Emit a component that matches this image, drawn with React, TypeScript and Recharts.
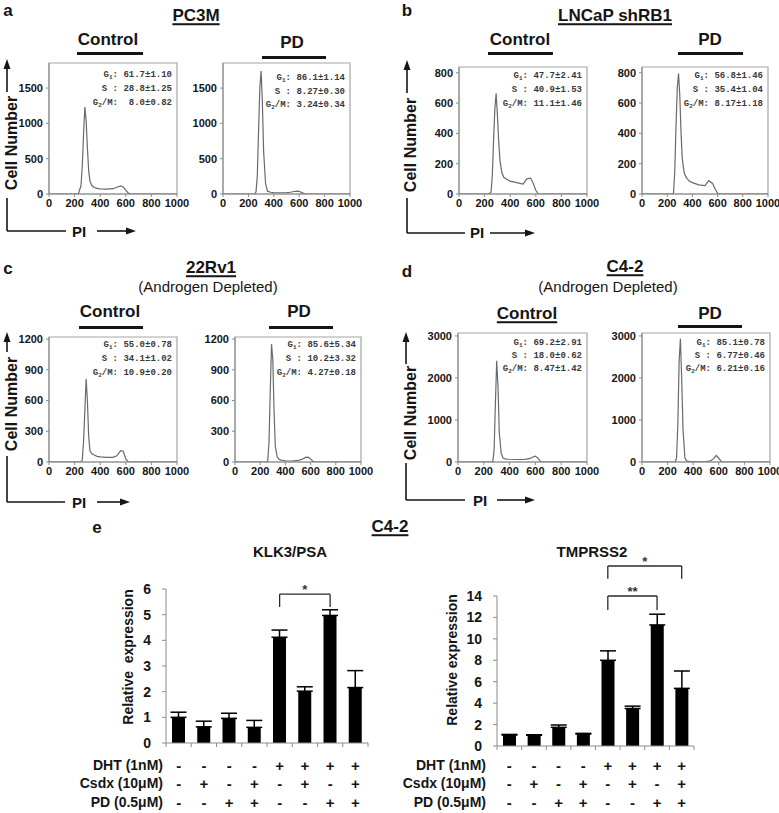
import React from 'react';
import { LineChart, Line, XAxis, YAxis, ReferenceArea, BarChart, Bar, ErrorBar, ReferenceLine } from 'recharts';

const SANS = '"Liberation Sans", Arial, Helvetica, sans-serif';
const MONO = '"Liberation Mono", "Courier New", monospace';

// PI channel positions shared by every histogram
const piGrid = [0, 200, 230, 250, 260, 270, 280, 290, 300, 310, 320, 335, 350, 375, 400, 450, 500, 530, 560, 580, 600, 620, 640, 660, 1000];

// cell counts
const pc3mControl = [0, 0, 5, 120, 400, 850, 1230, 1050, 650, 330, 180, 120, 95, 80, 72, 68, 75, 95, 115, 100, 55, 12, 0, 0, 0];
const pc3mPD = [0, 0, 0, 0, 30, 250, 900, 1500, 1740, 1300, 600, 150, 40, 25, 20, 18, 20, 25, 35, 40, 38, 20, 5, 0, 0];
const shRB1Control = [0, 0, 0, 10, 120, 350, 560, 665, 520, 350, 220, 140, 110, 95, 85, 75, 65, 100, 105, 70, 25, 0, 0, 0, 0];
const shRB1PD = [0, 0, 0, 5, 150, 450, 700, 795, 650, 400, 230, 140, 110, 85, 75, 60, 55, 88, 70, 35, 5, 0, 0, 0, 0];
const rv1Control = [0, 0, 0, 0, 20, 200, 500, 810, 600, 250, 110, 80, 70, 55, 50, 45, 45, 60, 110, 105, 30, 0, 0, 0, 0];
const rv1PD = [0, 0, 0, 0, 10, 200, 700, 1150, 1000, 500, 150, 50, 25, 15, 12, 10, 15, 25, 45, 48, 30, 5, 0, 0, 0];
const c42Control = [0, 0, 0, 0, 0, 10, 300, 1400, 2410, 1800, 700, 200, 90, 70, 65, 60, 60, 70, 85, 120, 140, 90, 10, 0, 0];
const c42PD = [0, 0, 0, 0, 0, 100, 900, 2400, 2940, 2000, 800, 100, 20, 10, 8, 5, 8, 20, 80, 155, 90, 10, 0, 0, 0];

const piTicks = [0, 200, 400, 600, 800, 1000];

// G1, S, G2/M percentages
const pc3mControlStats = ['61.7±1.10', '28.8±1.25', '8.0±0.82'];
const pc3mPDStats = ['86.1±1.14', '8.27±0.30', '3.24±0.34'];
const shRB1ControlStats = ['47.7±2.41', '40.9±1.53', '11.1±1.46'];
const shRB1PDStats = ['56.8±1.46', '35.4±1.04', '8.17±1.18'];
const rv1ControlStats = ['55.0±0.78', '34.1±1.02', '10.9±0.20'];
const rv1PDStats = ['85.6±5.34', '10.2±3.32', '4.27±0.18'];
const c42ControlStats = ['69.2±2.91', '18.0±0.62', '8.47±1.42'];
const c42PDStats = ['85.1±0.78', '6.77±0.46', '6.21±0.16'];

// panel e
const treatments = ['t1', 't2', 't3', 't4', 't5', 't6', 't7', 't8'];
const dhtSigns = ['-', '-', '-', '-', '+', '+', '+', '+'];
const csdxSigns = ['-', '+', '-', '+', '-', '+', '-', '+'];
const pdSigns = ['-', '-', '+', '+', '-', '-', '+', '+'];
const klk3Means = [1.0, 0.63, 0.96, 0.61, 4.12, 2.02, 4.97, 2.16];
const klk3Errors = [0.2, 0.22, 0.2, 0.27, 0.28, 0.17, 0.22, 0.66];
const tmprss2Means = [1.03, 1.0, 1.74, 1.12, 8.0, 3.5, 11.3, 5.38];
const tmprss2Errors = [0.05, 0.05, 0.22, 0.06, 0.88, 0.22, 1.0, 1.62];

const AXIS = '#8c8c8c';
const INK = '#151515';

function T({ x, y, size = 16, weight = 700, anchor = 'middle', underline = false, rotate = false, family = SANS, children }) {
  const tx = anchor === 'middle' ? '-50%' : anchor === 'end' ? '-100%' : '0';
  return (
    <div
      style={{
        position: 'absolute',
        left: x,
        top: y,
        transform: `translate(${tx}, -50%)${rotate ? ' rotate(-90deg)' : ''}`,
        fontSize: size,
        fontWeight: weight,
        fontFamily: family,
        lineHeight: 1.15,
        whiteSpace: 'pre',
        color: INK,
        textDecoration: underline ? 'underline' : 'none',
        textDecorationThickness: underline ? 2 : undefined,
        textUnderlineOffset: underline ? 2 : undefined,
      }}
    >
      {children}
    </div>
  );
}

function Rule({ x1, x2, y }) {
  return <div style={{ position: 'absolute', left: x1, top: y - 1.5, width: x2 - x1, height: 3, background: INK }} />;
}

function StatLine({ right, y, children }) {
  return (
    <div
      style={{
        position: 'absolute',
        left: right - 120,
        width: 120,
        top: y - 6,
        textAlign: 'right',
        fontFamily: MONO,
        fontSize: 9,
        fontWeight: 700,
        lineHeight: '12px',
        whiteSpace: 'pre',
        color: '#3a3a3a',
      }}
    >
      {children}
    </div>
  );
}

const sub = { fontSize: 6, position: 'relative', top: 2 } as React.CSSProperties;

function Histogram({ box, yMax, yTicks, counts, stats, statsY }) {
  const [x0, y0, x1, y1] = box;
  const yw = 40;
  const mt = 6;
  const mr = 18;
  const xh = 22;
  const data = piGrid.map((pi, i) => ({ pi, count: counts[i] }));
  const tickStyle = { fill: INK, fontSize: 11, fontWeight: 700 };
  return (
    <>
      <div style={{ position: 'absolute', left: x0 - yw, top: y0 - mt }}>
        <LineChart
          width={yw + (x1 - x0) + mr}
          height={mt + (y1 - y0) + xh}
          data={data}
          margin={{ top: mt, right: mr, bottom: 0, left: 0 }}
        >
          <ReferenceArea x1={0} x2={1000} y1={0} y2={yMax} fill="none" stroke="#a5a5a5" strokeWidth={1.2} />
          <XAxis
            type="number"
            dataKey="pi"
            domain={[0, 1000]}
            ticks={piTicks}
            interval={0}
            height={xh}
            tickSize={3}
            tickMargin={2}
            stroke={AXIS}
            tick={tickStyle}
          />
          <YAxis
            type="number"
            domain={[0, yMax]}
            ticks={yTicks}
            interval={0}
            width={yw}
            tickSize={3}
            tickMargin={3}
            stroke={AXIS}
            tick={tickStyle}
            allowDataOverflow
          />
          <Line type="linear" dataKey="count" stroke="#6a6a6a" strokeWidth={1.2} dot={false} isAnimationActive={false} />
        </LineChart>
      </div>
      <StatLine right={x1 - 5} y={statsY[0]}>G<span style={sub}>1</span>: {stats[0]}</StatLine>
      <StatLine right={x1 - 5} y={statsY[1]}>S : {stats[1]}</StatLine>
      <StatLine right={x1 - 5} y={statsY[2]}>G<span style={sub}>2</span>/M: {stats[2].padStart(9)}</StatLine>
    </>
  );
}

function ExpressionChart({ left, plotL, plotT, plotR, plotB, yMax, yTicks, means, errors, brackets, rowYs, topRoom }) {
  const yw = plotL - left;
  const mt = topRoom;
  const mr = 10;
  const xh = 70;
  const plotW = plotR - plotL;
  const bw = plotW / treatments.length;
  const data = treatments.map((t, i) => ({ t, v: means[i], e: [0, errors[i]] }));
  const rows = [dhtSigns, csdxSigns, pdSigns];

  const signTick = (props) => {
    const { x, y } = props;
    const i = props.index ?? props.payload?.index ?? 0;
    return (
      <g>
        <line x1={x - bw / 2} x2={x - bw / 2} y1={y} y2={y + 4} stroke={AXIS} />
        {i === treatments.length - 1 && <line x1={x + bw / 2} x2={x + bw / 2} y1={y} y2={y + 4} stroke={AXIS} />}
        {rows.map((r, k) => (
          <text key={k} x={x} y={y + rowYs[k] - plotB} textAnchor="middle" dominantBaseline="central" fontSize={15} fontWeight={700} fill={INK}>
            {r[i]}
          </text>
        ))}
      </g>
    );
  };

  const lineProps = { stroke: '#2a2a2a', strokeWidth: 1.3, ifOverflow: 'visible' as const };

  return (
    <div style={{ position: 'absolute', left, top: plotT - mt }}>
      <BarChart
        width={yw + plotW + mr}
        height={mt + (plotB - plotT) + xh}
        data={data}
        margin={{ top: mt, right: mr, bottom: 0, left: 0 }}
        barCategoryGap={0}
      >
        <XAxis dataKey="t" interval={0} height={xh} tickLine={false} tickSize={0} tickMargin={0} stroke={AXIS} tick={signTick} />
        <YAxis
          type="number"
          domain={[0, yMax]}
          ticks={yTicks}
          interval={0}
          width={yw}
          tickSize={4}
          tickMargin={11}
          stroke={AXIS}
          tick={{ fill: INK, fontSize: 14, fontWeight: 700 }}
        />
        <Bar dataKey="v" fill="#000" barSize={13} isAnimationActive={false}>
          <ErrorBar dataKey="e" width={8} stroke="#000" strokeWidth={1.5} direction="y" />
        </Bar>
        {brackets.map((b, i) => (
          <React.Fragment key={i}>
            <ReferenceLine
              segment={[{ x: treatments[b.from], y: b.top }, { x: treatments[b.to], y: b.top }]}
              {...lineProps}
              label={{ value: b.label, position: 'top', offset: 0, fontSize: 13, fontWeight: 700, fill: '#333' }}
            />
            <ReferenceLine segment={[{ x: treatments[b.from], y: b.top }, { x: treatments[b.from], y: b.bottom }]} {...lineProps} />
            <ReferenceLine segment={[{ x: treatments[b.to], y: b.top }, { x: treatments[b.to], y: b.bottom }]} {...lineProps} />
          </React.Fragment>
        ))}
      </BarChart>
    </div>
  );
}

function Arrows() {
  const s = { stroke: INK, strokeWidth: 1.6 };
  const up = (x, y) => <polygon points={`${x},${y} ${x - 3.5},${y + 10} ${x + 3.5},${y + 10}`} fill={INK} />;
  const right = (x, y) => <polygon points={`${x},${y} ${x - 10},${y - 3.5} ${x - 10},${y + 3.5}`} fill={INK} />;
  return (
    <svg width={779} height={813} style={{ position: 'absolute', left: 0, top: 0 }}>
      {/* a */}
      <line x1={7} y1={66} x2={7} y2={92} {...s} />
      <line x1={7} y1={198} x2={7} y2={231} {...s} />
      <line x1={7} y1={231} x2={66} y2={231} {...s} />
      <line x1={97} y1={231} x2={127} y2={231} {...s} />
      {up(7, 59)}
      {right(136, 231)}
      {/* b */}
      <line x1={407} y1={68} x2={407} y2={93} {...s} />
      <line x1={407} y1={198} x2={407} y2={233} {...s} />
      <line x1={407} y1={233} x2={465} y2={233} {...s} />
      <line x1={490} y1={233} x2={526} y2={233} {...s} />
      {up(407, 60)}
      {right(535, 233)}
      {/* c */}
      <line x1={7} y1={340} x2={7} y2={352} {...s} />
      <line x1={7} y1={456} x2={7} y2={502} {...s} />
      <line x1={7} y1={502} x2={65} y2={502} {...s} />
      <line x1={97} y1={502} x2={121} y2={502} {...s} />
      {up(7, 332)}
      {right(130, 502)}
      {/* d */}
      <line x1={406} y1={340} x2={406} y2={364} {...s} />
      <line x1={406} y1={463} x2={406} y2={500} {...s} />
      <line x1={406} y1={500} x2={465} y2={500} {...s} />
      <line x1={497} y1={500} x2={526} y2={500} {...s} />
      {up(406, 332)}
      {right(535, 500)}
    </svg>
  );
}

export default function App() {
  const rowYs = [765, 783, 802];
  return (
    <div style={{ position: 'absolute', left: 0, top: 0, width: 779, height: 813, overflow: 'hidden', background: '#fff', fontFamily: SANS }}>
      <Arrows />

      {/* panel letters */}
      <T x={8} y={11} size={17}>a</T>
      <T x={407} y={11} size={17}>b</T>
      <T x={8} y={269} size={17}>c</T>
      <T x={407} y={272} size={17}>d</T>
      <T x={97} y={528} size={17}>e</T>

      {/* titles */}
      <T x={196} y={16} size={17} underline>PC3M</T>
      <T x={615} y={16} size={17} underline>LNCaP shRB1</T>
      <T x={211} y={268} size={17} underline>22Rv1</T>
      <T x={208} y={287} size={15} weight={400}>(Androgen Depleted)</T>
      <T x={625} y={267} size={17} underline>C4-2</T>
      <T x={608} y={287} size={15} weight={400}>(Androgen Depleted)</T>
      <T x={390} y={527} size={17} underline>C4-2</T>

      {/* condition headers */}
      <T x={108} y={40} size={17}>Control</T>
      <Rule x1={77} x2={143} y={53} />
      <T x={292} y={43} size={17}>PD</T>
      <Rule x1={262} x2={326} y={57} />
      <T x={520} y={40} size={17}>Control</T>
      <Rule x1={488} x2={553} y={53} />
      <T x={710} y={40} size={17}>PD</T>
      <Rule x1={678} x2={743} y={53} />
      <T x={110} y={312} size={17}>Control</T>
      <Rule x1={79} x2={143} y={327} />
      <T x={299} y={312} size={17}>PD</T>
      <Rule x1={269} x2={333} y={327} />
      <T x={527} y={314} size={17} underline>Control</T>
      <T x={710} y={314} size={17}>PD</T>
      <Rule x1={678} x2={742} y={326} />

      {/* axis captions */}
      <T x={12} y={143} size={16} rotate>Cell Number</T>
      <T x={411} y={145} size={16} rotate>Cell Number</T>
      <T x={12} y={404} size={16} rotate>Cell Number</T>
      <T x={411} y={413} size={16} rotate>Cell Number</T>
      <T x={79} y={232} size={15}>PI</T>
      <T x={477} y={233} size={15}>PI</T>
      <T x={79} y={503} size={15}>PI</T>
      <T x={480} y={501} size={15}>PI</T>

      <Histogram box={[49, 63, 177, 194]} yMax={1855} yTicks={[0, 500, 1000, 1500]} counts={pc3mControl} stats={pc3mControlStats} statsY={[75, 89, 103]} />
      <Histogram box={[223, 63, 350, 194]} yMax={1855} yTicks={[0, 500, 1000, 1500]} counts={pc3mPD} stats={pc3mPDStats} statsY={[78, 92, 105]} />
      <Histogram box={[459, 67, 587, 194]} yMax={838} yTicks={[0, 200, 400, 600, 800]} counts={shRB1Control} stats={shRB1ControlStats} statsY={[76, 90, 104]} />
      <Histogram box={[642, 67, 768, 194]} yMax={838} yTicks={[0, 200, 400, 600, 800]} counts={shRB1PD} stats={shRB1PDStats} statsY={[76, 90, 104]} />
      <Histogram box={[49, 337, 177, 462]} yMax={1220} yTicks={[0, 300, 600, 900, 1200]} counts={rv1Control} stats={rv1ControlStats} statsY={[345, 359, 373]} />
      <Histogram box={[235, 337, 361, 462]} yMax={1220} yTicks={[0, 300, 600, 900, 1200]} counts={rv1PD} stats={rv1PDStats} statsY={[345, 359, 373]} />
      <Histogram box={[458, 333, 587, 462]} yMax={3070} yTicks={[0, 1000, 2000, 3000]} counts={c42Control} stats={c42ControlStats} statsY={[343, 356, 369]} />
      <Histogram box={[642, 333, 770, 462]} yMax={3070} yTicks={[0, 1000, 2000, 3000]} counts={c42PD} stats={c42PDStats} statsY={[343, 356, 369]} />

      {/* panel e */}
      <T x={290} y={552} size={15}>KLK3/PSA</T>
      <T x={592} y={552} size={15}>TMPRSS2</T>
      <T x={128} y={657} size={14} rotate>Relative  expression</T>
      <T x={452} y={660} size={14} rotate>Relative expression</T>

      <ExpressionChart
        left={128}
        plotL={166}
        plotT={589}
        plotR={368}
        plotB={743}
        topRoom={30}
        yMax={6}
        yTicks={[0, 1, 2, 3, 4, 5, 6]}
        means={klk3Means}
        errors={klk3Errors}
        brackets={[{ from: 4, to: 6, top: 5.8, bottom: 5.3, label: '*' }]}
        rowYs={rowYs}
      />
      <ExpressionChart
        left={452}
        plotL={497}
        plotT={596}
        plotR={694}
        plotB={746}
        topRoom={58}
        yMax={14}
        yTicks={[0, 2, 4, 6, 8, 10, 12, 14]}
        means={tmprss2Means}
        errors={tmprss2Errors}
        brackets={[
          { from: 4, to: 6, top: 14.0, bottom: 12.7, label: '**' },
          { from: 4, to: 7, top: 16.8, bottom: 15.6, label: '*' },
        ]}
        rowYs={rowYs}
      />

      {[['DHT (1nM)', 0], ['Csdx (10μM)', 1], ['PD (0.5μM)', 2]].map(([label, k]) => (
        <React.Fragment key={label as string}>
          <T x={163} y={rowYs[k as number]} size={14} anchor="end">{label}</T>
          <T x={486} y={rowYs[k as number]} size={14} anchor="end">{label}</T>
        </React.Fragment>
      ))}
    </div>
  );
}
